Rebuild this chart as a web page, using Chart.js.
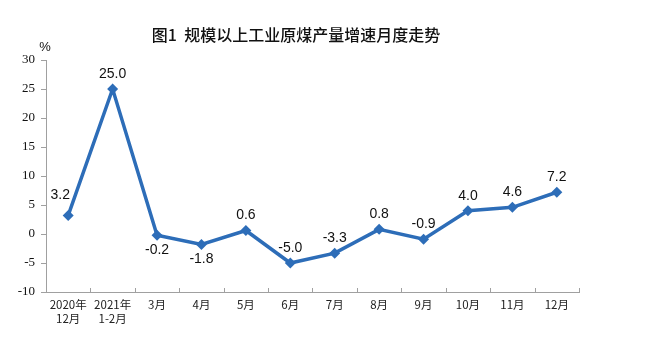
<!DOCTYPE html>
<html>
<head>
<meta charset="utf-8">
<script src="https://cdn.jsdelivr.net/npm/chart.js@4/dist/chart.umd.min.js"></script>
<style>
    html, body { margin: 0; padding: 0; background: #fff; }
    #wrap { width: 668px; height: 343px; position: relative; }
</style>
</head>
<body>
<div id="wrap"><canvas id="chart"></canvas></div>
<script>
const chartTitle = "图1  规模以上工业原煤产量增速月度走势";
const months = [
    ["2020年", "12月"],
    ["2021年", "1-2月"],
    "3月", "4月", "5月", "6月", "7月", "8月", "9月", "10月", "11月", "12月",
];
const growth = [3.2, 25.0, -0.2, -1.8, 0.6, -5.0, -3.3, 0.8, -0.9, 4.0, 4.6, 7.2];
const yTicks = [-10, -5, 0, 5, 10, 15, 20, 25, 30];

const LINE_COLOR = "#2d6db8";
const belowLabels = new Set([2, 3]);

const decorPlugin = {
    id: "decor",
    afterDraw(chart) {
        const ctx = chart.ctx;
        const area = chart.chartArea;
        const xScale = chart.scales.x;
        const yScale = chart.scales.y;
        ctx.save();

        // title and unit
        ctx.fillStyle = "#111";
        ctx.textAlign = "center";
        ctx.textBaseline = "middle";
        ctx.font = "500 16px 'Noto Sans CJK SC'";
        ctx.fillText(chartTitle, 296, 35);
        ctx.font = "13px 'Liberation Sans'";
        ctx.fillText("%", 45, 47);

        // category separators pointing up from the x axis
        ctx.strokeStyle = "#a0a0a0";
        ctx.lineWidth = 1;
        const half = (xScale.getPixelForValue(1) - xScale.getPixelForValue(0)) / 2;
        ctx.beginPath();
        for (let i = 0; i < growth.length; i++) {
            const x = Math.round(xScale.getPixelForValue(i) + half) + 0.5;
            ctx.moveTo(x, area.bottom);
            ctx.lineTo(x, area.bottom - 4);
        }
        ctx.stroke();

        // data labels
        ctx.fillStyle = "#111";
        ctx.font = "14px 'Liberation Sans'";
        growth.forEach((value, i) => {
            const x = xScale.getPixelForValue(i);
            const y = yScale.getPixelForValue(value);
            let dx = 0;
            let dy = belowLabels.has(i) ? 15 : -15;
            if (i === 0) {
                dx = -8;
                dy = -20;
            }
            ctx.fillText(value.toFixed(1), x + dx, y + dy);
        });
        ctx.restore();
    },
};

new Chart(document.getElementById("chart"), {
    type: "line",
    data: {
        labels: months,
        datasets: [
            {
                data: growth,
                borderColor: LINE_COLOR,
                backgroundColor: LINE_COLOR,
                borderWidth: 3.5,
                tension: 0,
                pointStyle: "rectRot",
                pointRadius: 5.5,
                pointHoverRadius: 5.5,
                pointBorderWidth: 0,
            },
        ],
    },
    options: {
        responsive: true,
        maintainAspectRatio: false,
        animation: false,
        layout: {
            padding: { top: 60, right: 89, bottom: 0, left: 0 },
        },
        plugins: {
            legend: { display: false },
            tooltip: { enabled: false },
        },
        scales: {
            x: {
                offset: true,
                border: { display: true, color: "#a0a0a0", width: 1 },
                grid: { display: false, drawTicks: false },
                ticks: {
                    color: "#222",
                    font: { family: "'Noto Sans CJK SC'", size: 11.5 },
                    maxRotation: 0,
                    autoSkip: false,
                    padding: 6,
                },
                afterFit(scale) {
                    scale.height = 51;
                },
            },
            y: {
                min: -10,
                max: 30,
                afterBuildTicks(scale) {
                    scale.ticks = yTicks.map((v) => ({ value: v }));
                },
                border: { display: true, color: "#a0a0a0", width: 1 },
                grid: {
                    drawOnChartArea: false,
                    drawTicks: true,
                    tickLength: 5,
                    color: "#a0a0a0",
                },
                ticks: {
                    color: "#111",
                    font: { family: "'Liberation Serif'", size: 13 },
                    padding: 6,
                },
                afterFit(scale) {
                    scale.width = 46;
                },
            },
        },
    },
    plugins: [decorPlugin],
});
</script>
</body>
</html>
